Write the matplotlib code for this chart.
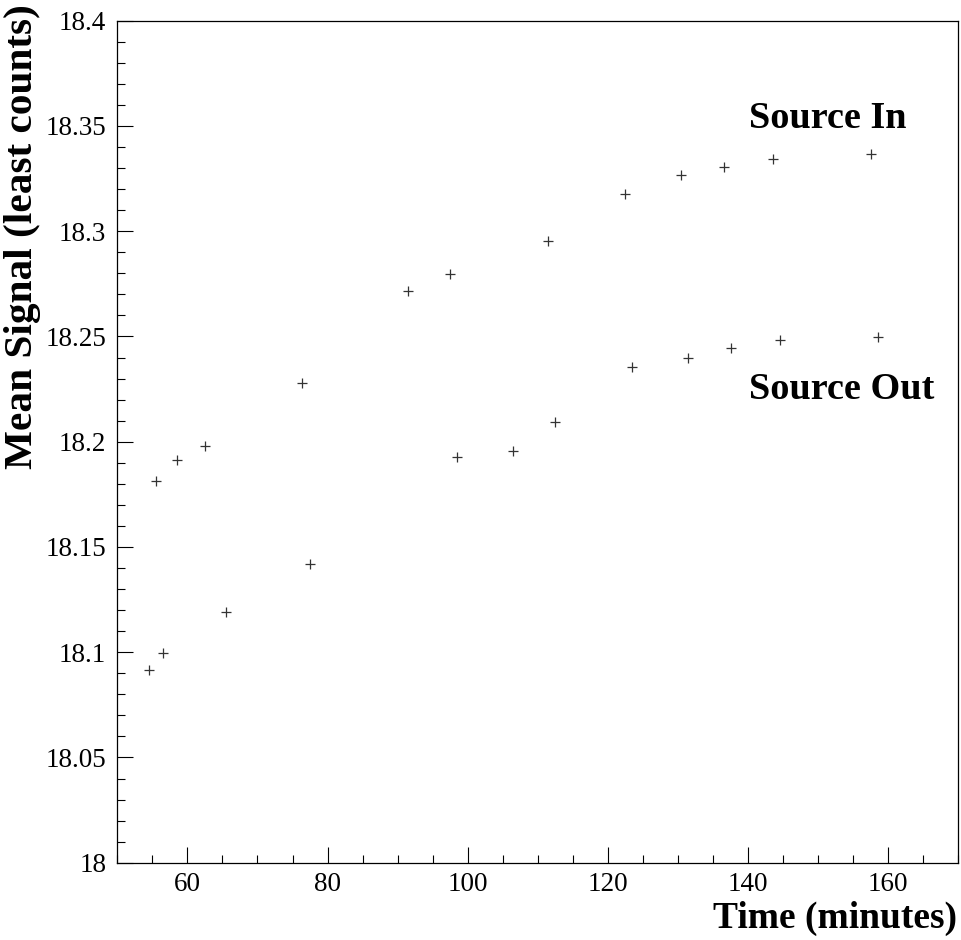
import matplotlib
matplotlib.use("Agg")
import matplotlib.pyplot as plt
from matplotlib.ticker import MultipleLocator, FuncFormatter

# Data
time_in = [55.5, 58.5, 62.5, 76.4, 91.5, 97.5, 111.5, 122.5, 130.5, 136.5, 143.5, 157.5]
signal_in = [18.1815, 18.1915, 18.1978, 18.228, 18.2717, 18.2796, 18.2954, 18.3175,
             18.3266, 18.3305, 18.3344, 18.3365]
time_out = [54.5, 56.5, 65.5, 77.5, 98.5, 106.5, 112.5, 123.5, 131.5, 137.5, 144.5, 158.5]
signal_out = [18.0917, 18.0998, 18.1189, 18.1417, 18.1926, 18.1958, 18.2095, 18.2355,
              18.2396, 18.2445, 18.2484, 18.2497]
x_ticks = [60, 80, 100, 120, 140, 160]
y_ticks = [18.0, 18.05, 18.1, 18.15, 18.2, 18.25, 18.3, 18.35, 18.4]
label_in = "Source In"
label_out = "Source Out"
xlabel = "Time (minutes)"
ylabel = "Mean Signal (least counts)"

plt.rcParams['font.family'] = ['Liberation Serif', 'DejaVu Serif']

W, H = 961, 940
fig = plt.figure(figsize=(W / 100, H / 100), dpi=100)
ax = fig.add_axes([117.3 / W, 1 - 862.7 / H, (958.3 - 117.3) / W, (862.7 - 20.7) / H])

ax.plot(time_in, signal_in, linestyle='none', marker='+', markersize=6.5,
        markeredgewidth=0.9, color='#333333')
ax.plot(time_out, signal_out, linestyle='none', marker='+', markersize=6.5,
        markeredgewidth=0.9, color='#333333')

ax.set_xlim(50, 170)
ax.set_ylim(18.0, 18.4)
ax.set_xticks(x_ticks)
ax.set_yticks(y_ticks)
ax.xaxis.set_minor_locator(MultipleLocator(5))
ax.yaxis.set_minor_locator(MultipleLocator(0.01))

def yfmt(v, pos):
    s = f"{v:.2f}".rstrip('0').rstrip('.')
    return s
ax.yaxis.set_major_formatter(FuncFormatter(yfmt))

ax.tick_params(which='major', direction='in', length=11.5, width=0.8, labelsize=19.5)
ax.tick_params(which='minor', direction='in', length=5.8, width=0.8)
ax.tick_params(axis='x', which='major', pad=7)
ax.tick_params(axis='y', which='major', pad=8)
for sp in ax.spines.values():
    sp.set_linewidth(0.9)

ax.text(140.1, 18.349, label_in, fontsize=27.5, fontweight='bold', ha='left', va='baseline')
ax.text(140.1, 18.2203, label_out, fontsize=27.5, fontweight='bold', ha='left', va='baseline')

fig.text(957 / W, (H - 928.3) / H, xlabel, fontsize=27, fontweight='bold',
         ha='right', va='baseline')
fig.text(23 / W, 1 - 4 / H, ylabel, fontsize=29.7, fontweight='bold',
         ha='center', va='top', rotation=90)

fig.savefig("out.png", dpi=100)
